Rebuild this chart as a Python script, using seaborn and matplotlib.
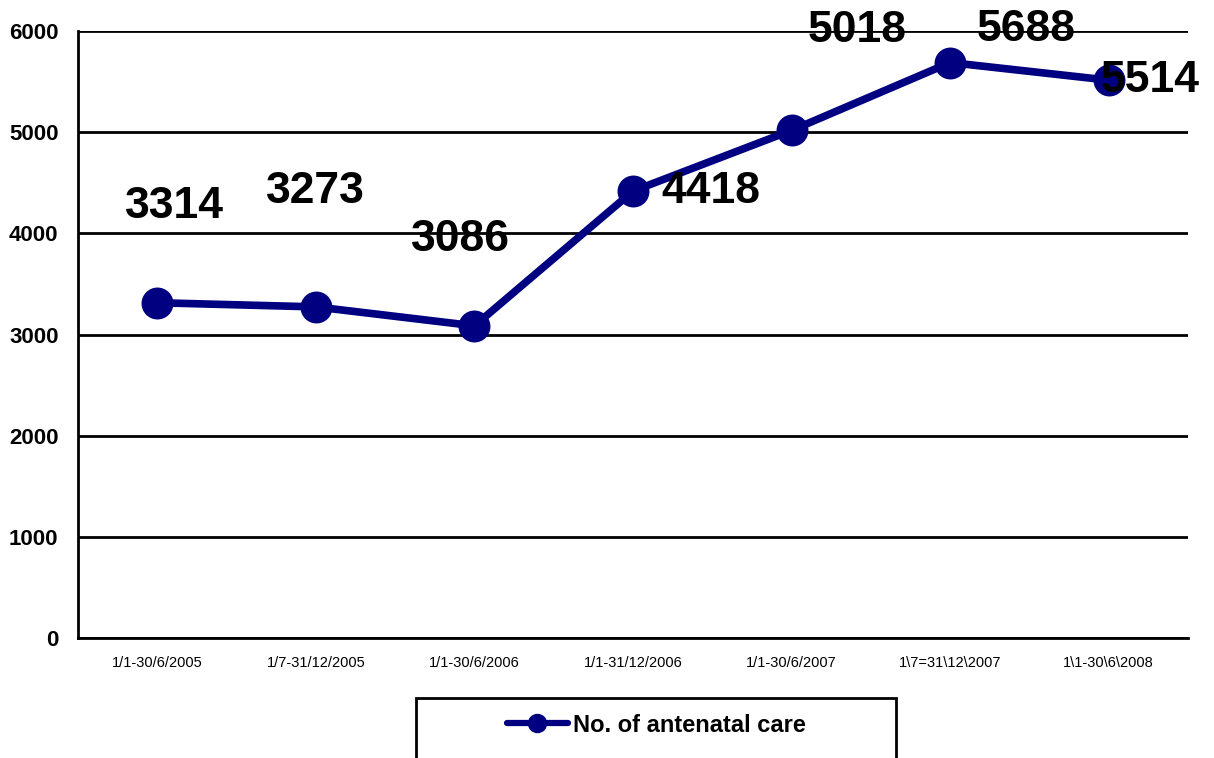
import matplotlib
matplotlib.use("Agg")
import matplotlib.pyplot as plt
from matplotlib.lines import Line2D
from matplotlib.patches import Rectangle
import pandas as pd
import seaborn as sns

# periodes et nombre de consultations prenatales
periods = ["1/1-30/6/2005", "1/7-31/12/2005", "1/1-30/6/2006", "1/1-31/12/2006",
           "1/1-30/6/2007", "1\\7=31\\12\\2007", "1\\1-30\\6\\2008"]
antenatal = [3314, 3273, 3086, 4418, 5018, 5688, 5514]
series_name = "No. of antenatal care"

# decalage des etiquettes (en points), comme sur l'original
label_offsets = [(12, 69), (0, 83), (-10, 62), (56, 0), (47, 72), (55, 24), (30, 0)]

df = pd.DataFrame({"period": periods, "count": antenatal})

sns.set_style("white")
plt.rcParams["font.family"] = ["Liberation Sans", "DejaVu Sans"]
plt.rcParams["text.color"] = "black"
plt.rcParams["xtick.color"] = "black"
plt.rcParams["ytick.color"] = "black"

fig = plt.figure(figsize=(12.14, 7.58), dpi=100)
ax = fig.add_axes([0.0643, 0.1583, 0.9143, 0.8008])

navy = "#000080"
sns.lineplot(data=df, x="period", y="count", marker="o", markersize=23,
             markeredgewidth=0, linewidth=5.5, color=navy,
             sort=False, ax=ax)

# etiquettes de valeurs
for i, (v, off) in enumerate(zip(antenatal, label_offsets)):
    ax.annotate(str(v), (i, v), textcoords="offset points", xytext=off,
                ha="center", va="center", fontsize=32, fontweight="bold",
                color="black", annotation_clip=False)

ax.set_xlim(-0.5, len(periods) - 0.5)
ax.set_ylim(0, 6000)
ax.set_yticks(range(0, 6001, 1000))
ax.set_xticks(range(len(periods)))
ax.set_xticklabels(periods, fontsize=10.5)
ax.set_xticks([i - 0.5 for i in range(len(periods) + 1)], minor=True)
ax.tick_params(axis="x", which="major", length=0, pad=13)
ax.tick_params(axis="x", which="minor", length=6, width=2, direction="out", color="black")
ax.tick_params(axis="y", length=6, width=2, direction="out", color="black", pad=8)
for lab in ax.get_yticklabels():
    lab.set_fontweight("bold")
    lab.set_fontsize(16)

ax.yaxis.grid(True, color="black", linewidth=2)
ax.set_axisbelow(True)
for side in ["top", "right"]:
    ax.spines[side].set_visible(False)
for side in ["left", "bottom"]:
    ax.spines[side].set_color("black")
    ax.spines[side].set_linewidth(2)
ax.set_xlabel("")
ax.set_ylabel("")

# legende en bas, coupee par le bord de la figure
fig.add_artist(Rectangle((0.3427, -0.06), 0.3954, 0.1392, transform=fig.transFigure,
                         facecolor="white", edgecolor="black", linewidth=2,
                         clip_on=False))
handle = Line2D([], [], color=navy, linewidth=4.5, marker="o", markersize=14,
                markeredgewidth=0)
fig.legend([handle], [series_name], loc="center", bbox_to_anchor=(0.5404, 0.0435),
           frameon=False, handlelength=2.6, handletextpad=0.2,
           prop={"weight": "bold", "size": 17})

plt.savefig("out.png", dpi=100)
